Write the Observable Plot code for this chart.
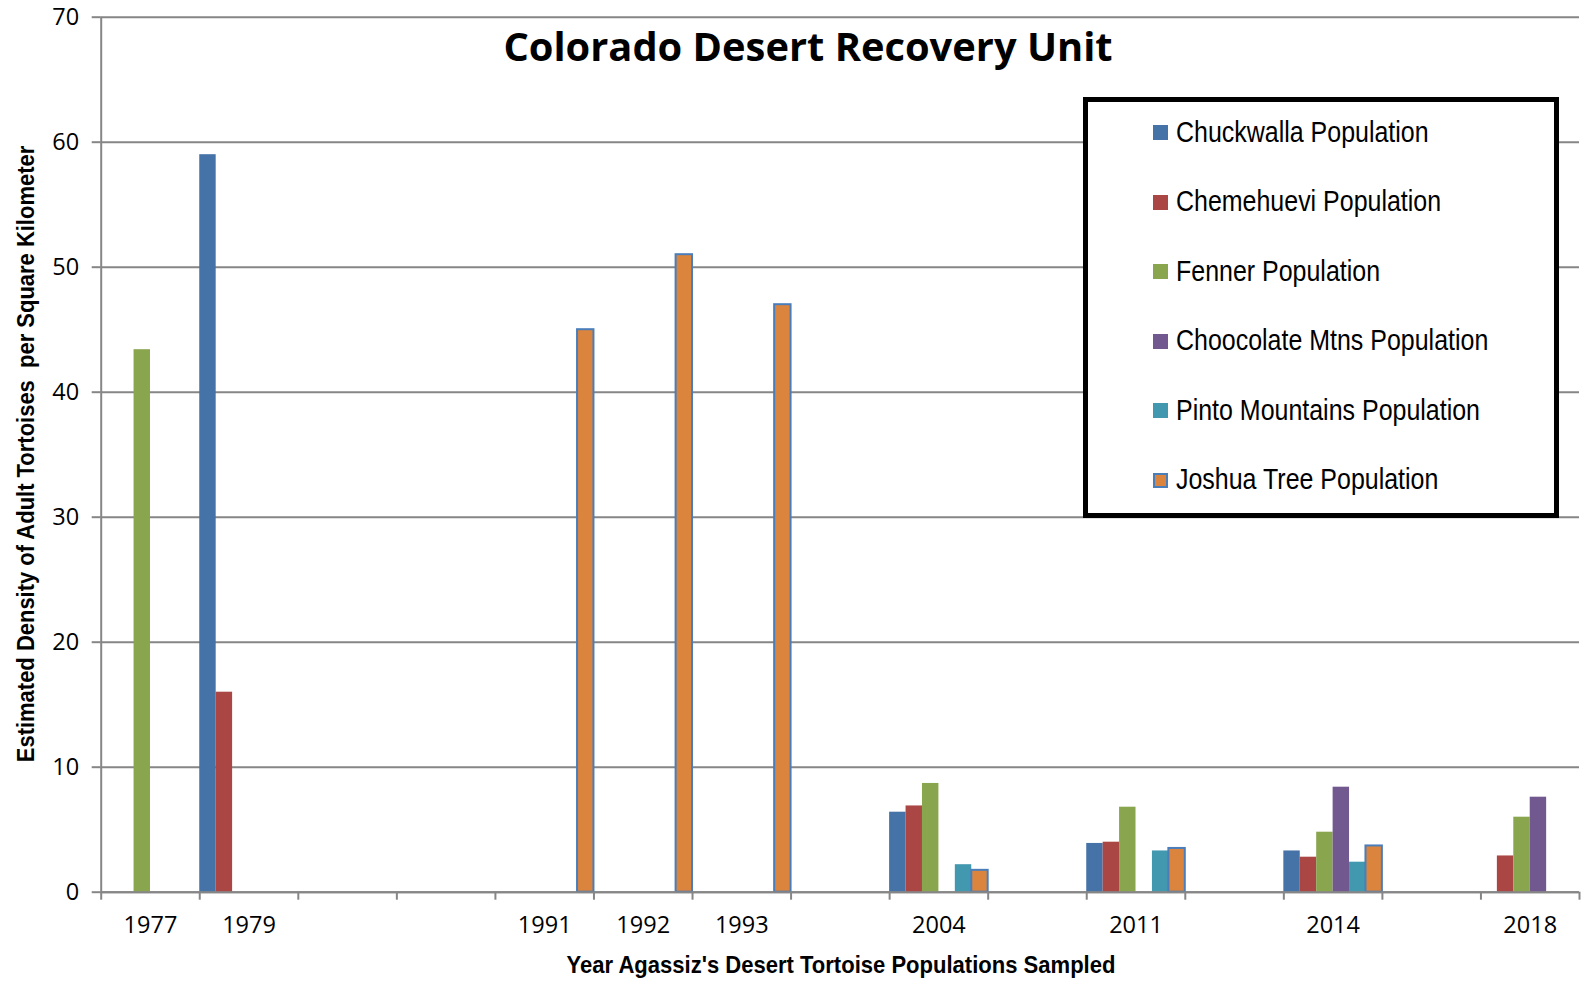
<!DOCTYPE html>
<html>
<head>
<meta charset="utf-8">
<script src="https://cdn.jsdelivr.net/npm/d3@7"></script>
<script src="https://cdn.jsdelivr.net/npm/@observablehq/plot@0.6"></script>
<style>
  html, body { margin: 0; padding: 0; background: #fff; }
  #chart { position: relative; width: 1583px; height: 983px; background: #fff; overflow: hidden; }
  #chart svg { position: absolute; left: 0; top: 0; }
  .ov { position: absolute; white-space: pre; line-height: 1; color: #000; }
  .narrow { font-family: "Liberation Sans", Arial, sans-serif; }
</style>
</head>
<body>
<div id="chart"></div>
<script>
// ---------- data ----------
const categories = ["1977", "1979", "", "", "1991", "1992", "1993", "", "2004", "", "2011", "", "2014", "", "2018"];
const seriesNames = ["Chuckwalla Population", "Chemehuevi Population", "Fenner Population",
  "Choocolate Mtns Population", "Pinto Mountains Population", "Joshua Tree Population"];
const seriesColors = ["#4572A7", "#AA4643", "#89A54E", "#71588F", "#4198AF", "#DB843D"];
const chuckwalla     = [null, 59,   null, null, null, null, null, null, 6.4,  null, 3.9, null, 3.3, null, null];
const chemehuevi     = [null, 16,   null, null, null, null, null, null, 6.9,  null, 4.0, null, 2.8, null, 2.9];
const fenner         = [43.4, null, null, null, null, null, null, null, 8.7,  null, 6.8, null, 4.8, null, 6.0];
const chocolateMtns  = [null, null, null, null, null, null, null, null, null, null, null, null, 8.4, null, 7.6];
const pintoMountains = [null, null, null, null, null, null, null, null, 2.2,  null, 3.3, null, 2.4, null, null];
const joshuaTree     = [null, null, null, null, 45,   51,   47,   null, 1.75, null, 3.5, null, 3.7, null, null];
const yTicks = [0, 10, 20, 30, 40, 50, 60, 70];
const titleText = "Colorado Desert Recovery Unit";
const xTitle = "Year Agassiz's Desert Tortoise Populations Sampled";
const yTitle = "Estimated Density of Adult Tortoises  per Square Kilometer";

// ---------- table ----------
const seriesValues = [chuckwalla, chemehuevi, fenner, chocolateMtns, pintoMountains, joshuaTree];
const nS = seriesNames.length;
const rows = [];
categories.forEach((c, i) => seriesValues.forEach((vals, s) => {
  if (vals[i] != null) rows.push({i, s, category: c, series: seriesNames[s], value: vals[i]});
}));
const jtRows = rows.filter(d => d.s === 5);
const boundaries = d3.range(0, categories.length + 1);
const labelPos = categories.map((c, i) => c ? i + 0.5 : null).filter(v => v != null);

const GRID = "#868686";
const x1 = d => d.i + d.s / nS;
const x2 = d => d.i + (d.s + 1) / nS;

const plot = Plot.plot({
  width: 1583,
  height: 983,
  marginLeft: 100.7,
  marginRight: 4,
  marginTop: 16.7,
  marginBottom: 91.3,
  style: {fontFamily: "'Open Sans', sans-serif", fontSize: "23.5px", color: "#000", background: "transparent"},
  x: {type: "linear", domain: [0, categories.length]},
  y: {domain: [0, 70]},
  color: {domain: seriesNames, range: seriesColors},
  marks: [
    Plot.ruleY(yTicks, {stroke: GRID, strokeWidth: 2}),
    Plot.axisY({ticks: yTicks, tickSize: 9, tickPadding: 13, stroke: GRID, strokeWidth: 2, label: null, tickFormat: d => String(d)}),
    Plot.axisX({ticks: boundaries, tickSize: 8, stroke: GRID, strokeWidth: 2, label: null, tickFormat: () => ""}),
    Plot.axisX({ticks: labelPos, tickSize: 0, tickPadding: 24, label: null, tickFormat: v => categories[Math.floor(v)]}),
    Plot.rectY(rows, {x1, x2, y1: 0, y2: "value", fill: "series"}),
    Plot.rectY(jtRows, {x1, x2, y1: 0, y2: "value", fill: "series", stroke: "#4A7EBB", strokeWidth: 2}),
    Plot.ruleX([0], {stroke: GRID, strokeWidth: 2}),
    Plot.ruleY([0], {stroke: GRID, strokeWidth: 2})
  ]
});

const chart = document.getElementById("chart");
chart.appendChild(plot);

// ---------- overlays ----------
function addText(txt, cls, css) {
  const el = document.createElement("div");
  el.className = "ov " + (cls || "");
  el.textContent = txt;
  Object.assign(el.style, css);
  chart.appendChild(el);
  return el;
}

// Title (fit to measured width)
const title = addText(titleText, "", {fontFamily: "'Open Sans', sans-serif", fontWeight: "700", fontSize: "35px", left: "808px", top: "46px", transform: "translate(-50%,-50%)"});
title.style.fontSize = (35 * 609 / title.offsetWidth) + "px";

// X axis title
const xt = addText(xTitle, "narrow", {fontWeight: "700", fontSize: "24px", left: "841px", top: "965px"});
const sx = 549 / xt.offsetWidth;
xt.style.transform = `translate(-50%,-50%) scaleX(${sx})`;

// Y axis title
const yt = addText(yTitle, "narrow", {fontWeight: "700", fontSize: "24px", left: "26px", top: "454px"});
const sy = 616 / yt.offsetWidth;
yt.style.transform = `translate(-50%,-50%) rotate(-90deg) scaleX(${sy})`;

// Legend
const box = document.createElement("div");
Object.assign(box.style, {position: "absolute", left: "1083px", top: "97px", width: "476px", height: "421px",
  border: "5px solid #000", boxSizing: "border-box", background: "#fff"});
chart.appendChild(box);
let legendScale = null;
seriesNames.forEach((name, k) => {
  const cy = 132.8 + k * 69.5;
  const sw = document.createElement("div");
  Object.assign(sw.style, {position: "absolute", left: "1153px", top: (cy - 7.5) + "px", width: "15px", height: "15px",
    background: seriesColors[k], boxSizing: "border-box"});
  if (k === 5) sw.style.border = "2px solid #4A7EBB";
  chart.appendChild(sw);
  const t = addText(name, "narrow", {fontSize: "30px", left: "1176px", top: (cy - 1) + "px", transformOrigin: "0 50%"});
  if (legendScale == null) legendScale = 253 / t.offsetWidth;
  t.style.transform = `translateY(-50%) scaleX(${legendScale})`;
});
</script>
</body>
</html>
